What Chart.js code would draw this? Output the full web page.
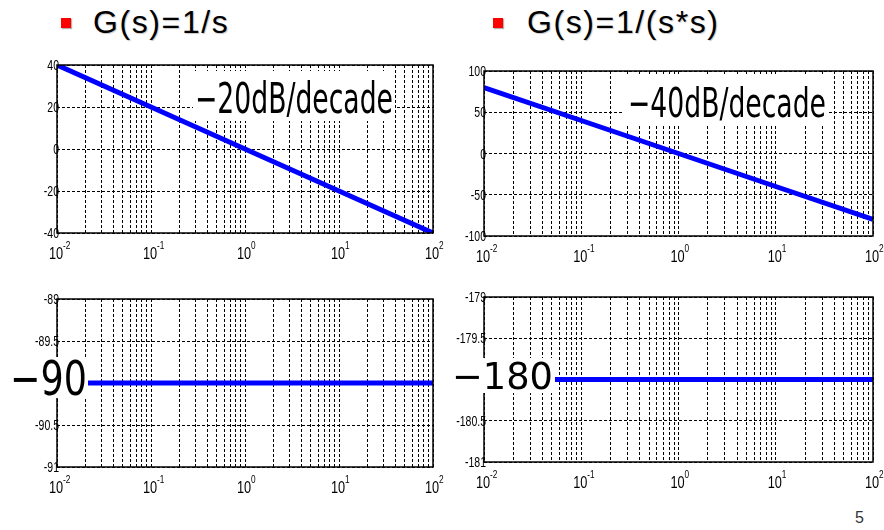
<!DOCTYPE html>
<html>
<head>
<meta charset="utf-8">
<script src="https://cdn.jsdelivr.net/npm/chart.js@4.4.0/dist/chart.umd.min.js"></script>
<style>
body{margin:0;background:#fff;width:884px;height:530px;position:relative;overflow:hidden;font-family:'Liberation Sans',Arial,sans-serif}
canvas{position:absolute}
.ttl{position:absolute;top:6px;font-size:32px;line-height:32px;letter-spacing:1.6px;color:#000;text-shadow:1px 1px 1px rgba(0,0,0,.22);white-space:nowrap}
.bul{position:absolute;top:18px;width:10px;height:10px;background:#f00;box-shadow:1px 1px 1px rgba(0,0,0,.3)}
#pg{position:absolute;left:855px;top:509px;font-size:16px;color:#333}
</style>
</head>
<body>
<div class="bul" style="left:61px"></div><div class="ttl" style="left:93px">G(s)=1/s</div>
<div class="bul" style="left:493px"></div><div class="ttl" style="left:527px">G(s)=1/(s*s)</div>
<canvas id="c1" width="445" height="210" style="left:0;top:55px"></canvas>
<canvas id="c2" width="439" height="215" style="left:445px;top:55px"></canvas>
<canvas id="c3" width="445" height="215" style="left:0;top:285px"></canvas>
<canvas id="c4" width="439" height="215" style="left:445px;top:285px"></canvas>
<div id="pg">5</div>
<script>
// frequencies (rad/s) and responses
const freq = [0.01, 0.1, 1, 10, 100];
const expLabels = ['-2', '-1', '0', '1', '2'];
const mag1 = [40, 20, 0, -20, -40];
const mag2 = [80, 40, 0, -40, -80];
const phase1 = [-90, -90, -90, -90, -90];
const phase2 = [-180, -180, -180, -180, -180];
const yTicks1 = [-40, -20, 0, 20, 40];
const yTicks2 = [-100, -50, 0, 50, 100];
const yTicks3 = [-91, -90.5, -90, -89.5, -89];
const yTicks4 = [-181, -180.5, -180, -179.5, -179];
const yLabels1 = ['-40', '-20', '0', '20', '40'];
const yLabels2 = ['-100', '-50', '0', '50', '100'];
const yLabels3 = ['-91', '-90.5', '-90', '-89.5', '-89'];
const yLabels4 = ['-181', '-180.5', '-180', '-179.5', '-179'];

// log grid: 1..9 per decade
let gridFreq = [];
for (let e = -2; e < 2; e++) {
    for (let m = 1; m < 10; m++) gridFreq.push(m * Math.pow(10, e));
}
gridFreq.push(100);

function drawScaled(ctx, text, x, y, font, align, sx) {
    ctx.save();
    ctx.font = font;
    ctx.textAlign = 'left';
    ctx.textBaseline = 'alphabetic';
    let w = ctx.measureText(text).width * sx;
    let left = align == 'right' ? x - w : (align == 'center' ? x - w / 2 : x);
    ctx.translate(left, y);
    ctx.scale(sx, 1);
    ctx.fillText(text, 0, 0);
    ctx.restore();
}

const bodePlugin = {
    id: 'bode',
    afterDraw(chart) {
        const o = chart.options.plugins.bode;
        const ctx = chart.ctx;
        const a = chart.chartArea;
        const xs = chart.scales.x, ys = chart.scales.y;
        ctx.save();
        ctx.fillStyle = '#000';
        // frame
        ctx.strokeStyle = '#000';
        ctx.lineWidth = 1.5;
        ctx.strokeRect(a.left, a.top, a.right - a.left, a.bottom - a.top);
        // y labels
        o.yTicks.forEach((v, i) => {
            let py = ys.getPixelForValue(v);
            drawScaled(ctx, o.yLabels[i], a.left + 2, py + 5, '15px "Liberation Sans"', 'right', 0.7);
        });
        // x labels 10^n
        freq.forEach((v, i) => {
            let px = xs.getPixelForValue(v);
            drawScaled(ctx, '10', px - 1, a.bottom + 26, '17px "Liberation Sans"', 'center', 0.75);
            drawScaled(ctx, expLabels[i], px + 6, a.bottom + 16, '11px "Liberation Sans"', 'left', 0.75);
        });
        // annotation with white box
        const n = o.note;
        ctx.fillStyle = '#fff';
        ctx.fillRect(n.box[0], n.box[1], n.box[2] - n.box[0], n.box[3] - n.box[1]);
        ctx.fillStyle = '#000';
        const font = n.size + 'px "DejaVu Sans"';
        ctx.font = font;
        let sx = (n.right - n.left) / ctx.measureText(n.text).width;
        drawScaled(ctx, n.text, n.left, n.base, font, 'left', sx);
        ctx.restore();
    }
};

function bode(id, vals, yMin, yMax, yTicks, yLabels, padTop, padRight, yW, xH, note) {
    new Chart(document.getElementById(id), {
        type: 'line',
        data: {
            datasets: [{
                data: freq.map((f, i) => ({x: f, y: vals[i]})),
                borderColor: '#0000ff',
                borderWidth: 5,
                pointRadius: 0,
                tension: 0,
                fill: false
            }]
        },
        options: {
            responsive: false,
            animation: false,
            devicePixelRatio: 1,
            layout: {padding: {top: padTop, right: padRight, left: 0, bottom: 0}},
            plugins: {
                legend: {display: false},
                tooltip: {enabled: false},
                bode: {yTicks: yTicks, yLabels: yLabels, note: note}
            },
            scales: {
                x: {
                    type: 'logarithmic', min: 0.01, max: 100,
                    afterBuildTicks: s => { s.ticks = gridFreq.map(v => ({value: v})); },
                    afterFit: s => { s.height = xH; },
                    ticks: {display: false},
                    grid: {color: '#000', lineWidth: 1, drawTicks: false},
                    border: {display: false, dash: [3, 2]}
                },
                y: {
                    type: 'linear', min: yMin, max: yMax,
                    afterBuildTicks: s => { s.ticks = yTicks.map(v => ({value: v})); },
                    afterFit: s => { s.width = yW; },
                    ticks: {display: false},
                    grid: {color: '#000', lineWidth: 1, drawTicks: false},
                    border: {display: false, dash: [3, 2]}
                }
            }
        },
        plugins: [bodePlugin]
    });
}

bode('c1', mag1, -40, 40, yTicks1, yLabels1, 10, 12, 57, 32,
    {text: '\u221220dB/decade', box: [193, 16, 395, 66], left: 195, right: 393, base: 58, size: 42});
bode('c2', mag2, -100, 100, yTicks2, yLabels2, 16, 11, 39, 34,
    {text: '\u221240dB/decade', box: [179, 21, 384, 71], left: 183, right: 381, base: 62, size: 41});
bode('c3', phase1, -91, -89, yTicks3, yLabels3, 14, 12, 57, 33,
    {text: '\u221290', box: [5, 72, 88, 113], left: 10, right: 87, base: 110, size: 48});
bode('c4', phase2, -181, -179, yTicks4, yLabels4, 12, 11, 39, 38,
    {text: '\u2212180', box: [3, 73, 110, 108], left: 7, right: 108, base: 104, size: 37});
</script>
</body>
</html>
